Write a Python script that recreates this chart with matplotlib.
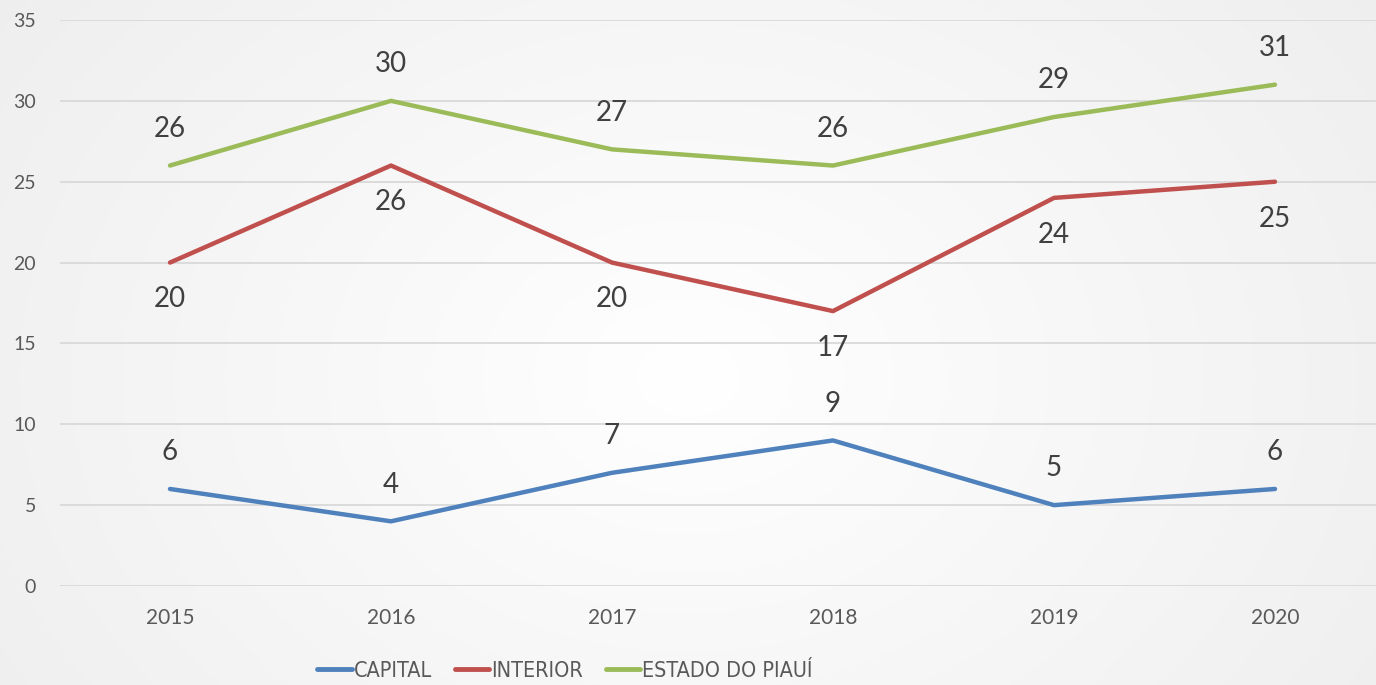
import numpy as np
import matplotlib
matplotlib.use("Agg")
import matplotlib.pyplot as plt
from matplotlib import font_manager
from matplotlib.font_manager import FontProperties

years = ["2015", "2016", "2017", "2018", "2019", "2020"]
capital = [6, 4, 7, 9, 5, 6]
interior = [20, 26, 20, 17, 24, 25]
estado = [26, 30, 27, 26, 29, 31]
series_names = ["CAPITAL", "INTERIOR", "ESTADO DO PIAUÍ"]
series_colors = ["#4F81BD", "#C0504D", "#9BBB59"]
label_offsets = [1, -1, 1]  # label above (+1) or below (-1) the point
y_ticks = [0, 5, 10, 15, 20, 25, 30, 35]

names = {f.name for f in font_manager.fontManager.ttflist}
base_font = "Lato" if "Lato" in names else "DejaVu Sans"
plt.rcParams["font.family"] = [base_font, "DejaVu Sans"]

# look for a condensed sans font for the legend
cond = None
for f in font_manager.fontManager.ttflist:
    nm = f.name.lower()
    st = str(f.stretch).lower()
    if ("narrow" in nm or "condensed" in nm or st in ("condensed", "semi-condensed", "extra-condensed", "600", "500", "400")) \
            and "mono" not in nm and "serif" not in nm and f.style == "normal" and f.weight in (400, "normal", "regular"):
        cond = f
        break
if cond is not None:
    legend_prop = FontProperties(fname=cond.fname, size=15.5)
else:
    legend_prop = FontProperties(family=base_font, size=13)

W, H = 1376, 685
fig = plt.figure(figsize=(W / 100, H / 100), dpi=100)

# radial gradient background
bg = fig.add_axes([0, 0, 1, 1], zorder=0)
yy, xx = np.mgrid[0:H, 0:W]
cx, cy = W * 0.5, H * 0.55
r = np.sqrt(((xx - cx) / (W * 0.62)) ** 2 + ((yy - cy) / (H * 0.95)) ** 2)
r = np.clip(r, 0, 1)
val = 1.0 - 0.065 * r
img = np.dstack([val, val, val])
bg.imshow(img, aspect="auto", extent=[0, 1, 0, 1])
bg.set_axis_off()

left = 59.5 / W
right = 1385.5 / W
bottom = 99 / H
top = 665 / H
ax = fig.add_axes([left, bottom, right - left, top - bottom], zorder=1)
ax.patch.set_alpha(0)

x = np.arange(len(years))
all_series = [capital, interior, estado]
for vals, name, col, off in zip(all_series, series_names, series_colors, label_offsets):
    ax.plot(x, vals, color=col, lw=3.2, solid_capstyle="round", label=name, zorder=3)
    for xi, v in zip(x, vals):
        ax.annotate(str(v), (xi, v), xytext=(0, 26.5 * off), textcoords="offset points",
                    ha="center", va="center", fontsize=20, color="#404040", zorder=4)

ax.set_xlim(-0.5, len(years) - 0.5)
ax.set_ylim(0, 35)
ax.set_yticks(y_ticks)
ax.set_xticks(x)
ax.set_xticklabels(years)
ax.grid(axis="y", color="#D9D9D9", lw=1.3, zorder=1)
ax.set_axisbelow(True)
for s in ax.spines.values():
    s.set_visible(False)
ax.tick_params(axis="both", length=0, colors="#595959", labelsize=14)
ax.tick_params(axis="x", labelsize=15, pad=16)
ax.tick_params(axis="y", pad=17)

leg = fig.legend(loc="center", bbox_to_anchor=(565 / W, 1 - 671 / H), ncol=3, frameon=False,
                 prop=legend_prop, handlelength=1.6, handletextpad=0.1,
                 columnspacing=1.05, labelcolor="#595959")
for line in leg.get_lines():
    line.set_linewidth(3.5)
    line.set_solid_capstyle("round")

fig.savefig("out.png", dpi=100)
